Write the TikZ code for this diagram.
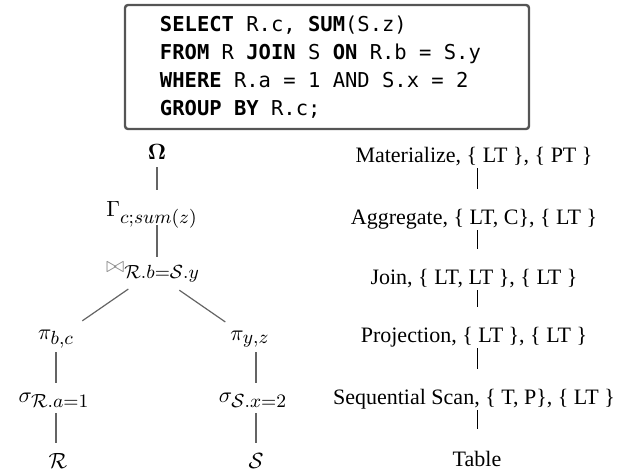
\RequirePackage{fix-cm}
\documentclass[tikz,border=0pt]{standalone}
\usepackage{amsmath}
\usepackage[no-math]{fontspec}
\setmainfont{Liberation Serif}
\newfontfamily\sqlfont{DejaVu Sans Mono}
\newcommand\sqlgap{\hspace*{6.17pt}}
\DeclareMathSizes{11}{11}{9.5}{7}
\definecolor{qtline}{RGB}{100,100,100}
\definecolor{sqlframe}{RGB}{85,85,85}

\begin{document}
\begin{tikzpicture}[
    x=0.5pt, y=-0.5pt,
    edge/.style={draw=qtline, line width=0.6pt},
    pipe/.style={draw=black, line width=0.45pt, shorten <=5.5pt, shorten >=15pt},
    op/.style={font=\fontsize{11}{13}\selectfont, inner sep=0pt},
    phys/.style={font=\fontsize{11}{13}\selectfont, inner sep=0pt},
    sqlbox/.style={draw=sqlframe, line width=1.2pt, rounded corners=1.5pt,
      align=left, text width=167pt, inner xsep=17.5pt, minimum height=62pt,
      font=\sqlfont\fontsize{10.25}{14}\selectfont},
  ]
  \useasboundingbox (0,0) rectangle (623,473);

  %% ---------------- query ----------------
  \node[sqlbox] (query) at (327,67)
    {\textbf{SELECT}\sqlgap R.c,\sqlgap\textbf{SUM}(S.z)\\
     \textbf{FROM}\sqlgap R\sqlgap\textbf{JOIN}\sqlgap S\sqlgap\textbf{ON}\sqlgap
       R.b\sqlgap=\sqlgap S.y\\
     \textbf{WHERE}\sqlgap R.a\sqlgap=\sqlgap1\sqlgap AND\sqlgap S.x\sqlgap=\sqlgap2\\
     \textbf{GROUP}\sqlgap\textbf{BY}\sqlgap R.c;};

  %% ---------------- logical plan ----------------
  \node[op] (omega) at (157,152) {$\mathbf{\Omega}$};
  \node[op] (gamma) at (152,215) {$\Gamma_{c;sum(z)}$};
  \node[op] (join) at (153,272)
    {$\mathord{\textcolor{black!45}{\bowtie}}_{\mathcal{R}.b=\mathcal{S}.y}$};
  \node[op] (projl) at (56,339) {$\pi_{b,c}$};
  \node[op] (projr) at (250,339) {$\pi_{y,z}$};
  \node[op] (sell) at (54,400) {$\sigma_{\mathcal{R}.a=1}$};
  \node[op] (selr) at (253,400) {$\sigma_{\mathcal{S}.x=2}$};
  \node[op] (rell) at (58,461) {$\mathcal{R}$};
  \node[op] (relr) at (256,461) {$\mathcal{S}$};

  \draw[edge, shorten <=7.5pt, shorten >=12.5pt]
    (omega.center) -- (omega.center |- gamma.center);
  \draw[edge, shorten <=5pt, shorten >=7.5pt]
    (omega.center |- gamma.center) -- (omega.center |- join.center);
  \draw[edge, shorten <=15pt, shorten >=16pt] (join.center) -- (projl.center);
  \draw[edge, shorten <=16pt, shorten >=15pt] (join.center) -- (projr.center);
  % both branches run straight down
  \draw[edge, shorten <=6.5pt, shorten >=8.5pt]
    (projl.center) -- (projl.center |- sell.center);
  \draw[edge, shorten <=6.5pt, shorten >=9pt]
    (projl.center |- sell.center) -- (projl.center |- rell.center);
  \draw[edge, shorten <=6.5pt, shorten >=8.5pt]
    (relr.center |- projr.center) -- (relr.center |- selr.center);
  \draw[edge, shorten <=6.5pt, shorten >=9pt]
    (relr.center |- selr.center) -- (relr.center);

  %% ---------------- physical plan ----------------
  \node[phys] (mat) at (474,157) {Materialize, \{ LT \}, \{ PT \}};
  \node[phys] (agg) at (474,219) {Aggregate, \{ LT, C\}, \{ LT \}};
  \node[phys] (jn) at (474,279) {Join, \{ LT, LT \}, \{ LT \}};
  \node[phys] (prj) at (474,337) {Projection, \{ LT \}, \{ LT \}};
  \node[phys] (scan) at (474,399) {Sequential Scan, \{ T, P\}, \{ LT \}};
  \node[phys] (tbl) at (477,459) {Table};

  \foreach \a/\b in {mat/agg, agg/jn, jn/prj, prj/scan, scan/tbl}
    \draw[pipe] (tbl.center |- \a.center) -- (tbl.center |- \b.center);

\end{tikzpicture}
\end{document}
